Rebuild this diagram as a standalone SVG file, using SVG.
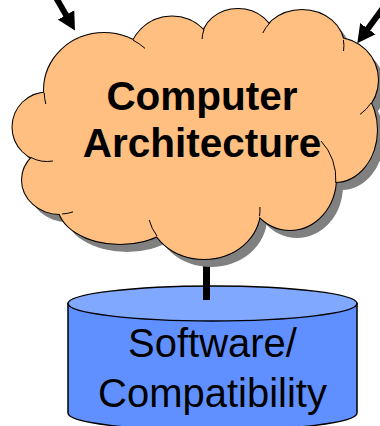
<svg xmlns="http://www.w3.org/2000/svg" width="380" height="426" viewBox="0 0 380 426">
  <style>
    .lbl { font-family: "Liberation Sans", Arial, sans-serif; font-size: 40px; text-anchor: middle; fill: #000; }
    .bold { font-weight: bold; font-size: 40.5px; }
    .conn { stroke: #000; stroke-width: 6; fill: none; }
    .tail { fill: none; stroke: #000; stroke-width: 1; }
  </style>
  <defs>
    <marker id="head" markerUnits="userSpaceOnUse" viewBox="0 0 20 20" markerWidth="20" markerHeight="20" refX="1" refY="10" orient="auto">
      <path d="M0,0.5 L18,10 L0,19.5 Z" fill="#000"/>
    </marker>
    <!-- cloud lobes, reused for shadow, outline and fill -->
    <g id="lobes">
      <ellipse cx="200" cy="130" rx="130" ry="90"/>
      <ellipse cx="47" cy="127" rx="34.5" ry="34.5"/>
      <ellipse cx="104" cy="90" rx="60" ry="57"/>
      <ellipse cx="172" cy="60" rx="43.5" ry="43.5"/>
      <ellipse cx="238" cy="40" rx="36" ry="31"/>
      <ellipse cx="302" cy="46" rx="42" ry="36"/>
      <ellipse cx="336" cy="80" rx="42" ry="42"/>
      <ellipse cx="335" cy="130" rx="42" ry="52"/>
      <ellipse cx="290" cy="178" rx="46" ry="52"/>
      <ellipse cx="204" cy="210" rx="56" ry="49"/>
      <ellipse cx="120" cy="205" rx="62" ry="39"/>
      <ellipse cx="60" cy="180" rx="38" ry="34"/>
    </g>
  </defs>

  <!-- Software/Compatibility cylinder -->
  <g id="software">
    <path d="M68,303.5 V413 A144.5,17.5 0 0 0 357,413 V303.5 Z" fill="#6090FF" stroke="#000" stroke-width="1.5"/>
    <ellipse cx="212.5" cy="303.5" rx="144.5" ry="17.5" fill="#80A8FF" stroke="#000" stroke-width="1.5"/>
    <text class="lbl" x="212.5" y="357">Software/</text>
    <text class="lbl" x="212.5" y="407">Compatibility</text>
  </g>

  <!-- connectors -->
  <g id="connectors">
    <line class="conn" x1="206.5" y1="255" x2="206.5" y2="300" style="stroke-width:7"/>
    <line class="conn" x1="52" y1="-9.3" x2="66.5" y2="15.8" marker-end="url(#head)"/>
    <line class="conn" x1="385" y1="5.2" x2="367.3" y2="29.5" marker-end="url(#head)"/>
  </g>

  <!-- Computer Architecture cloud -->
  <g id="architecture">
    <use href="#lobes" fill="#808080" transform="translate(7,8)"/>
    <use href="#lobes" fill="#FFBF80" stroke="#000" stroke-width="2"/>
    <use href="#lobes" fill="#FFBF80"/>
    <g class="tail">
      <path d="M44.2,93 A60,57 0 0 0 45.8,104"/>
      <path d="M31,157.5 A34.5,34.5 0 0 0 53,161"/>
      <path d="M62,214 A38,34 0 0 0 73,211.9"/>
      <path d="M157,236 A56,49 0 0 1 149.2,220"/>
      <path d="M259.5,216 A56,49 0 0 0 259.9,207"/>
      <path d="M321,141 A46,52 0 0 1 335.8,183"/>
      <path d="M371.2,102.9 A42,42 0 0 1 360,114.4"/>
      <path d="M343.4,40 A42,36 0 0 1 343.5,51"/>
      <path d="M270,22.7 A42,36 0 0 0 262.8,33"/>
      <path d="M203.9,30 A36,31 0 0 0 202.1,39"/>
      <path d="M133,40.1 A60,57 0 0 1 145,48.4"/>
    </g>
    <text class="lbl bold" x="202" y="110">Computer</text>
    <text class="lbl bold" x="202" y="157">Architecture</text>
  </g>
</svg>
